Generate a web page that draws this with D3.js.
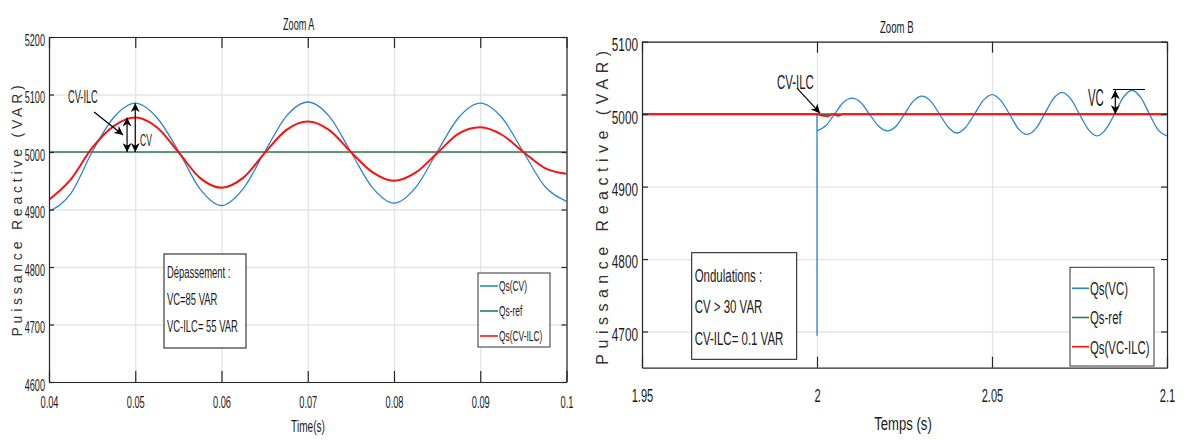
<!DOCTYPE html>
<html>
<head>
<meta charset="utf-8">
<script src="https://cdn.jsdelivr.net/npm/d3@7"></script>
<style>
  body { margin: 0; background: #fff; }
  svg { font-family: "Liberation Sans", Arial, sans-serif; fill: #1a1a1a; }
  .grid line { stroke: #e4e4e4; stroke-width: 1.3; }
  .grid path { display: none; }
  .frame path, .frame line { stroke: #262626; stroke-width: 1.2; }
  .frame text { fill: #1a1a1a; }
  .serie { fill: none; }
</style>
</head>
<body>
<div id="chart"></div>
<script>

// ---------- Zoom A (left) ----------
var timeA   = [0.04, 0.0425, 0.045, 0.0475, 0.05, 0.0525, 0.055, 0.0575, 0.06, 0.0625, 0.065, 0.0675, 0.07,
               0.0725, 0.075, 0.0775, 0.08, 0.0825, 0.085, 0.0875, 0.09, 0.0925, 0.095, 0.0975, 0.1];
var qsCV    = [4897, 4927, 5000, 5060, 5085, 5060, 5002, 4936, 4907, 4936, 5000, 5062, 5087,
               5062, 5000, 4938, 4911, 4938, 5000, 5060, 5085, 5060, 5000, 4940, 4914];
var qsCVILC = [4917, 4952, 5007, 5045, 5060, 5043, 5000, 4955, 4938, 4955, 4998, 5038, 5053,
               5038, 5000, 4965, 4950, 4964, 4998, 5032, 5043, 5030, 5000, 4972, 4962];
var timeRefA = [0.04, 0.1];
var qsRefA   = [5000, 5000];

var xTicksA  = [0.04, 0.05, 0.06, 0.07, 0.08, 0.09, 0.1];
var xLabelsA = ["0.04", "0.05", "0.06", "0.07", "0.08", "0.09", "0.1"];
var yTicksA  = [4600, 4700, 4800, 4900, 5000, 5100, 5200];
var legendA  = ["Qs(CV)", "Qs-ref", "Qs(CV-ILC)"];
var noteA    = ["Dépassement :", "VC=85 VAR", "VC-ILC= 55 VAR"];

// ---------- Zoom B (right) ----------
var timeVCjump = [1.95, 2, 2, 2];
var qsVCjump   = [5000, 5000, 4694, 4977];
var timeB = [2, 2.0025, 2.005, 2.0075, 2.01, 2.0125, 2.015, 2.0175, 2.02, 2.0225, 2.025, 2.0275, 2.03, 2.0325,
             2.035, 2.0375, 2.04, 2.0425, 2.045, 2.0475, 2.05, 2.0525, 2.055, 2.0575, 2.06, 2.0625, 2.065,
             2.0675, 2.07, 2.0725, 2.075, 2.0775, 2.08, 2.0825, 2.085, 2.0875, 2.09, 2.0925, 2.095, 2.0975, 2.1];
var qsVC  = [4977, 4984, 5000, 5016, 5022, 5016, 5000, 4984, 4977, 4983, 5000, 5018, 5025, 5018,
             5000, 4982, 4974, 4982, 5000, 5019, 5027, 5019, 5000, 4980, 4972, 4980, 5000,
             5021, 5030, 5021, 5000, 4979, 4970, 4979, 5000, 5023, 5033, 5023, 5000, 4978, 4970];
var timeVCILC = [1.95, 2, 2.0015, 2.003, 2.0045, 2.006, 2.0075, 2.1];
var qsVCILC   = [5000, 5000, 4998, 4997, 5000, 4998, 5000, 5000];
var timeRefB  = [1.95, 2.1];
var qsRefB    = [5000, 5000];

var xTicksB  = [1.95, 2, 2.05, 2.1];
var xLabelsB = ["1.95", "2", "2.05", "2.1"];
var yTicksB  = [4700, 4800, 4900, 5000, 5100];
var legendB  = ["Qs(VC)", "Qs-ref", "Qs(VC-ILC)"];
var noteB    = ["Ondulations :", "CV > 30 VAR", "CV-ILC= 0.1 VAR"];

var colors = ["#2a86cc", "#2e7a4c", "#ff1010"];

var svg = d3.select("#chart").append("svg")
    .attr("width", 1185)
    .attr("height", 441);

// arrow heads
var defs = svg.append("defs");
defs.append("marker")
    .attr("id", "head")
    .attr("viewBox", "0 0 10 10")
    .attr("refX", 10).attr("refY", 5)
    .attr("markerWidth", 9).attr("markerHeight", 9)
    .attr("markerUnits", "userSpaceOnUse")
    .attr("orient", "auto-start-reverse")
  .append("path")
    .attr("d", "M0,0 L10,5 L0,10 L3,5 z")
    .style("fill", "#000");

// narrow text (the figure uses a condensed font)
function addText(g, x, y, str, size, sx, anchor) {
  return g.append("text")
      .attr("transform", "translate(" + x + "," + y + ") scale(" + sx + ",1)")
      .attr("text-anchor", anchor || "start")
      .style("font-size", size + "px")
      .text(str);
}

function panel(o) {
  var x = d3.scaleLinear().domain(o.xDomain).range([o.left, o.right]);
  var y = d3.scaleLinear().domain(o.yDomain).range([o.bottom, o.top]);
  var g = svg.append("g");
  var w = o.right - o.left, h = o.bottom - o.top;

  // grid
  g.append("g").attr("class", "grid")
      .attr("transform", "translate(0," + o.bottom + ")")
      .call(d3.axisBottom(x).tickValues(o.xTicks).tickSize(-h).tickFormat(""));
  g.append("g").attr("class", "grid")
      .attr("transform", "translate(" + o.left + ",0)")
      .call(d3.axisLeft(y).tickValues(o.yTicks).tickSize(-w).tickFormat(""));

  // series
  g.append("clipPath").attr("id", o.id + "clip")
    .append("rect").attr("x", o.left).attr("y", o.top).attr("width", w).attr("height", h);
  var plot = g.append("g").attr("clip-path", "url(#" + o.id + "clip)");
  o.series.forEach(function(s) {
    var line = d3.line()
        .curve(s.curve)
        .x(function(d, i) { return x(s.t[i]); })
        .y(function(d) { return y(d); });
    plot.append("path")
        .attr("class", "serie")
        .attr("d", line(s.q))
        .style("stroke", colors[s.c])
        .style("stroke-width", s.w);
  });

  // frame with inner ticks
  var bottom = g.append("g").attr("class", "frame")
      .attr("transform", "translate(0," + o.bottom + ")")
      .call(d3.axisBottom(x).tickValues(o.xTicks).tickSizeInner(-11).tickSizeOuter(0)
            .tickFormat(function(d, i) { return o.xLabels[i]; }));
  bottom.selectAll(".tick text")
      .attr("y", o.xLabelY).attr("dy", 0)
      .attr("transform", "scale(" + o.xSx + ",1)")
      .style("font-size", o.xSize + "px");
  g.append("g").attr("class", "frame")
      .attr("transform", "translate(0," + o.top + ")")
      .call(d3.axisTop(x).tickValues(o.xTicks).tickSizeInner(-11).tickSizeOuter(0).tickFormat(""));
  var left = g.append("g").attr("class", "frame")
      .attr("transform", "translate(" + o.left + ",0)")
      .call(d3.axisLeft(y).tickValues(o.yTicks).tickSizeInner(-o.yTick).tickSizeOuter(0)
            .tickFormat(d3.format("d")));
  left.selectAll(".tick text")
      .attr("x", -o.yLabelDx / o.ySx).attr("dy", o.yDy)
      .attr("transform", "scale(" + o.ySx + ",1)")
      .style("font-size", o.ySize + "px");
  g.append("g").attr("class", "frame")
      .attr("transform", "translate(" + o.right + ",0)")
      .call(d3.axisRight(y).tickValues(o.yTicks).tickSizeInner(-o.yTick).tickSizeOuter(0).tickFormat(""));

  // titles
  addText(g, o.titleX, o.titleY, o.title, 16, o.titleSx);
  addText(g, o.xTitleX, o.xTitleY, o.xTitle, o.xTitleSize, o.xTitleSx, "middle");
  g.append("text")
      .attr("transform", "translate(" + o.yTitleX + "," + o.yTitleY + ") rotate(-90)")
      .attr("text-anchor", "middle")
      .style("font-size", o.yTitleSize + "px")
      .style("letter-spacing", o.yTitleLs + "px")
      .style("fill", "#333")
      .text("Puissance Reactive  (VAR)");

  // note box
  g.append("rect")
      .attr("x", o.note.x).attr("y", o.note.y)
      .attr("width", o.note.w).attr("height", o.note.h)
      .style("fill", "#fff").style("stroke", "#111").style("stroke-width", 1);
  o.note.lines.forEach(function(l, i) {
    addText(g, o.note.x + 3, o.note.y0 + i * o.note.dy, l, o.note.size, o.note.sx);
  });

  // legend
  var lg = o.legend;
  g.append("rect")
      .attr("x", lg.x).attr("y", lg.y).attr("width", lg.w).attr("height", lg.h)
      .style("fill", "#fff").style("stroke", "#333").style("stroke-width", 1);
  lg.labels.forEach(function(l, i) {
    var yy = lg.y0 + i * lg.dy;
    g.append("line")
        .attr("x1", lg.x + 2).attr("x2", lg.x + 2 + lg.len)
        .attr("y1", yy).attr("y2", yy)
        .style("stroke", colors[i]).style("stroke-width", 1.6);
    addText(g, lg.x + 3 + lg.len, yy + lg.size * 0.36, l, lg.size, lg.sx);
  });

  // annotations (data units)
  o.arrows.forEach(function(a) {
    g.append("line")
        .attr("x1", x(a[0])).attr("y1", y(a[1]))
        .attr("x2", x(a[2])).attr("y2", y(a[3]))
        .style("stroke", "#000").style("stroke-width", 1.2)
        .attr("marker-end", a[4] ? "url(#head)" : null)
        .attr("marker-start", a[5] ? "url(#head)" : null);
  });
  o.labels.forEach(function(a) {
    addText(g, x(a[0]), y(a[1]), a[2], a[3], a[4]);
  });
}

// Zoom A
panel({
  id: "A", left: 49, right: 566.5, top: 37, bottom: 382,
  xDomain: [0.04, 0.1], yDomain: [4600, 5200],
  xTicks: xTicksA, xLabels: xLabelsA, yTicks: yTicksA,
  xLabelY: 26, xSx: 0.58, xSize: 16,
  yTick: 5, yLabelDx: 4, yDy: "0.5em", ySx: 0.57, ySize: 16,
  title: "Zoom A", titleX: 283, titleY: 30, titleSx: 0.57,
  xTitle: "Time(s)", xTitleX: 308, xTitleY: 432, xTitleSize: 16, xTitleSx: 0.63,
  yTitleX: 22, yTitleY: 209, yTitleSize: 14, yTitleLs: 3.8,
  series: [
    {t: timeA, q: qsCV, c: 0, w: 1.3, curve: d3.curveMonotoneX},
    {t: timeRefA, q: qsRefA, c: 1, w: 1.6, curve: d3.curveLinear},
    {t: timeA, q: qsCVILC, c: 2, w: 2, curve: d3.curveMonotoneX}
  ],
  note: {x: 164, y: 254, w: 82, h: 94, y0: 278, dy: 27, size: 16, sx: 0.59, lines: noteA},
  legend: {x: 478, y: 273, w: 72, h: 74, y0: 286, dy: 25, len: 18, size: 14, sx: 0.6, labels: legendA},
  arrows: [
    [0.04522, 5069.6, 0.04859, 5029.6, true, false],
    [0.04905, 5060, 0.04905, 5000, true, true],
    [0.05, 5085, 0.05, 5000, true, true]
  ],
  labels: [
    [0.0422, 5085, "CV-ILC", 18.5, 0.5],
    [0.05056, 5010.4, "CV", 17, 0.5]
  ]
});

// Zoom B
panel({
  id: "B", left: 642, right: 1167, top: 41.7, bottom: 367.7,
  xDomain: [1.95, 2.1], yDomain: [4650, 5100],
  xTicks: xTicksB, xLabels: xLabelsB, yTicks: yTicksB,
  xLabelY: 34, xSx: 0.6, xSize: 18.5,
  yTick: 6, yLabelDx: 4, yDy: "0.47em", ySx: 0.62, ySize: 19,
  title: "Zoom B", titleX: 880, titleY: 33, titleSx: 0.6,
  xTitle: "Temps (s)", xTitleX: 903, xTitleY: 430, xTitleSize: 19, xTitleSx: 0.69,
  yTitleX: 608, yTitleY: 205, yTitleSize: 16, yTitleLs: 5.5,
  series: [
    {t: timeVCjump, q: qsVCjump, c: 0, w: 1.3, curve: d3.curveLinear},
    {t: timeB, q: qsVC, c: 0, w: 1.3, curve: d3.curveMonotoneX},
    {t: timeRefB, q: qsRefB, c: 1, w: 1.6, curve: d3.curveLinear},
    {t: timeVCILC, q: qsVCILC, c: 2, w: 2, curve: d3.curveLinear}
  ],
  note: {x: 691.7, y: 252.7, w: 105, h: 106.6, y0: 281.7, dy: 31.7, size: 18.5, sx: 0.62, lines: noteB},
  legend: {x: 1070, y: 267.3, w: 84, h: 98.7, y0: 288.3, dy: 29.2, len: 17, size: 19, sx: 0.6, labels: legendB},
  arrows: [
    [1.99429, 5035.9, 2.00086, 5001.4, true, false],
    [2.08523, 5033, 2.08523, 5000, true, true],
    [2.08457, 5034, 2.0937, 5034, false, false]
  ],
  labels: [
    [1.98857, 5034.5, "CV-ILC", 20, 0.57],
    [2.07743, 5011, "VC", 24, 0.47]
  ]
});

</script>
</body>
</html>
